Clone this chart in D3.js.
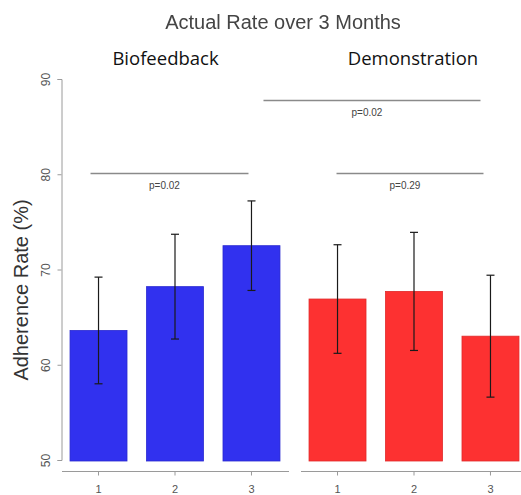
<!DOCTYPE html>
<html>
<head>
<meta charset="utf-8">
<script src="https://cdn.jsdelivr.net/npm/d3@7"></script>
<style>
  html, body { margin: 0; padding: 0; background: #fff; }
  svg { display: block; }
</style>
</head>
<body>
<svg id="chart" width="521" height="495"></svg>
<script>
// Adherence over three months, two training groups
const months = ["1", "2", "3"];
const yTicks = [50, 60, 70, 80, 90];

const bioMeans = [63.6, 68.2, 72.5];
const bioErr = [5.6, 5.5, 4.7];
const demoMeans = [66.9, 67.7, 63.0];
const demoErr = [5.7, 6.2, 6.4];

// Significance brackets: height on the rate axis and the p value shown below
const bracketLevels = [80.1, 87.8, 80.1];
const bracketLabels = ["p=0.02", "p=0.02", "p=0.29"];

const svg = d3.select("#chart");

const y = d3.scaleLinear().domain([50, 90]).range([460, 79]);

const xBio = d3.scaleBand().domain(months).range([62, 288])
  .paddingInner(0.255).paddingOuter(0.105);
const xDemo = d3.scaleBand().domain(months).range([301, 527])
  .paddingInner(0.255).paddingOuter(0.105);

const axisGrey = "#9a9a9a";
const textGrey = "#555";
const sans = "'Liberation Sans', Arial, sans-serif";

// blur used for the header text
const defs = svg.append("defs");
defs.append("filter").attr("id", "soft")
  .append("feGaussianBlur").attr("stdDeviation", 0.45);

// Title
svg.append("text")
  .attr("x", 283).attr("y", 29)
  .attr("text-anchor", "middle")
  .attr("font-family", sans)
  .attr("font-size", 20)
  .attr("fill", "#444")
  .attr("filter", "url(#soft)")
  .text("Actual Rate over 3 Months");

// Group headings
const headFont = "'Open Sans', 'Noto Sans', sans-serif";
svg.append("text")
  .attr("x", 165.5).attr("y", 65)
  .attr("text-anchor", "middle")
  .attr("font-family", headFont).attr("font-size", 18.5)
  .attr("fill", "#111")
  .text("Biofeedback");
svg.append("text")
  .attr("x", 413).attr("y", 65)
  .attr("text-anchor", "middle")
  .attr("font-family", headFont).attr("font-size", 18.5)
  .attr("fill", "#111")
  .text("Demonstration");

// Y axis
const yAxis = svg.append("g").attr("transform", "translate(61.5,0)")
  .call(d3.axisLeft(y).tickValues(yTicks).tickSize(4).tickFormat(d3.format("d")));
yAxis.select(".domain").attr("stroke", axisGrey);
yAxis.selectAll(".tick line").attr("stroke", axisGrey);
yAxis.selectAll(".tick text")
  .attr("font-family", sans)
  .attr("font-size", 12)
  .attr("fill", textGrey)
  .attr("x", null).attr("dy", null)
  .attr("text-anchor", "middle")
  .attr("transform", "translate(-16,0) rotate(-90)")
  .attr("dominant-baseline", "central");

svg.append("text")
  .attr("transform", "translate(28,290) rotate(-90)")
  .attr("text-anchor", "middle")
  .attr("font-family", sans)
  .attr("font-size", 20)
  .attr("fill", "#333")
  .text("Adherence Rate (%)");

// X axes, one per panel
function xAxis(scale, x0, x1) {
  const g = svg.append("g").attr("transform", "translate(0,471.5)")
    .call(d3.axisBottom(scale).tickSize(4).tickSizeOuter(0));
  g.select(".domain").attr("d", `M${x0},0H${x1}`).attr("stroke", axisGrey);
  g.selectAll(".tick line").attr("stroke", axisGrey);
  g.selectAll(".tick text")
    .attr("font-family", sans)
    .attr("font-size", 11)
    .attr("fill", textGrey)
    .attr("dy", null)
    .attr("y", 21);
}
xAxis(xBio, 62, 289);
xAxis(xDemo, 301, 521);

// Bars with error bars
function panel(scale, means, errs, fill, stroke) {
  const rows = months.map((m, i) => ({ m, v: means[i], e: errs[i] }));
  const g = svg.append("g");
  g.selectAll("rect").data(rows).join("rect")
    .attr("x", d => scale(d.m))
    .attr("width", scale.bandwidth())
    .attr("y", d => y(d.v))
    .attr("height", d => y(50) - y(d.v) + 1)
    .attr("fill", fill)
    .attr("stroke", stroke)
    .attr("stroke-width", 0.8);

  const cx = d => scale(d.m) + scale.bandwidth() / 2;
  const eb = g.selectAll("g.err").data(rows).join("g").attr("class", "err")
    .attr("stroke", "#1a1a1a").attr("stroke-width", 1.2);
  eb.append("line")
    .attr("x1", cx).attr("x2", cx)
    .attr("y1", d => y(d.v + d.e)).attr("y2", d => y(d.v - d.e));
  eb.append("line")
    .attr("x1", d => cx(d) - 4).attr("x2", d => cx(d) + 4)
    .attr("y1", d => y(d.v + d.e)).attr("y2", d => y(d.v + d.e));
  eb.append("line")
    .attr("x1", d => cx(d) - 4).attr("x2", d => cx(d) + 4)
    .attr("y1", d => y(d.v - d.e)).attr("y2", d => y(d.v - d.e));
}
panel(xBio, bioMeans, bioErr, "#3131ef", "#2a2ad0");
panel(xDemo, demoMeans, demoErr, "#fd3131", "#e02a2a");

// Significance brackets
const mid = (s, m) => s(m) + s.bandwidth() / 2;
const spans = [
  [mid(xBio, "1") - 8, mid(xBio, "3") - 3],
  [mid(xBio, "3") + 12, mid(xDemo, "3") - 10],
  [mid(xDemo, "1") - 1, mid(xDemo, "3") - 7]
];
spans.forEach((s, i) => {
  const ly = Math.round(y(bracketLevels[i])) + 0.5;
  svg.append("line")
    .attr("x1", s[0]).attr("x2", s[1])
    .attr("y1", ly).attr("y2", ly)
    .attr("stroke", "#8a8a8a").attr("stroke-width", 1.3);
  svg.append("text")
    .attr("x", (s[0] + s[1]) / 2 - 5)
    .attr("y", ly + 15)
    .attr("text-anchor", "middle")
    .attr("font-family", sans)
    .attr("font-size", 10)
    .attr("fill", "#444")
    .text(bracketLabels[i]);
});
</script>
</body>
</html>
